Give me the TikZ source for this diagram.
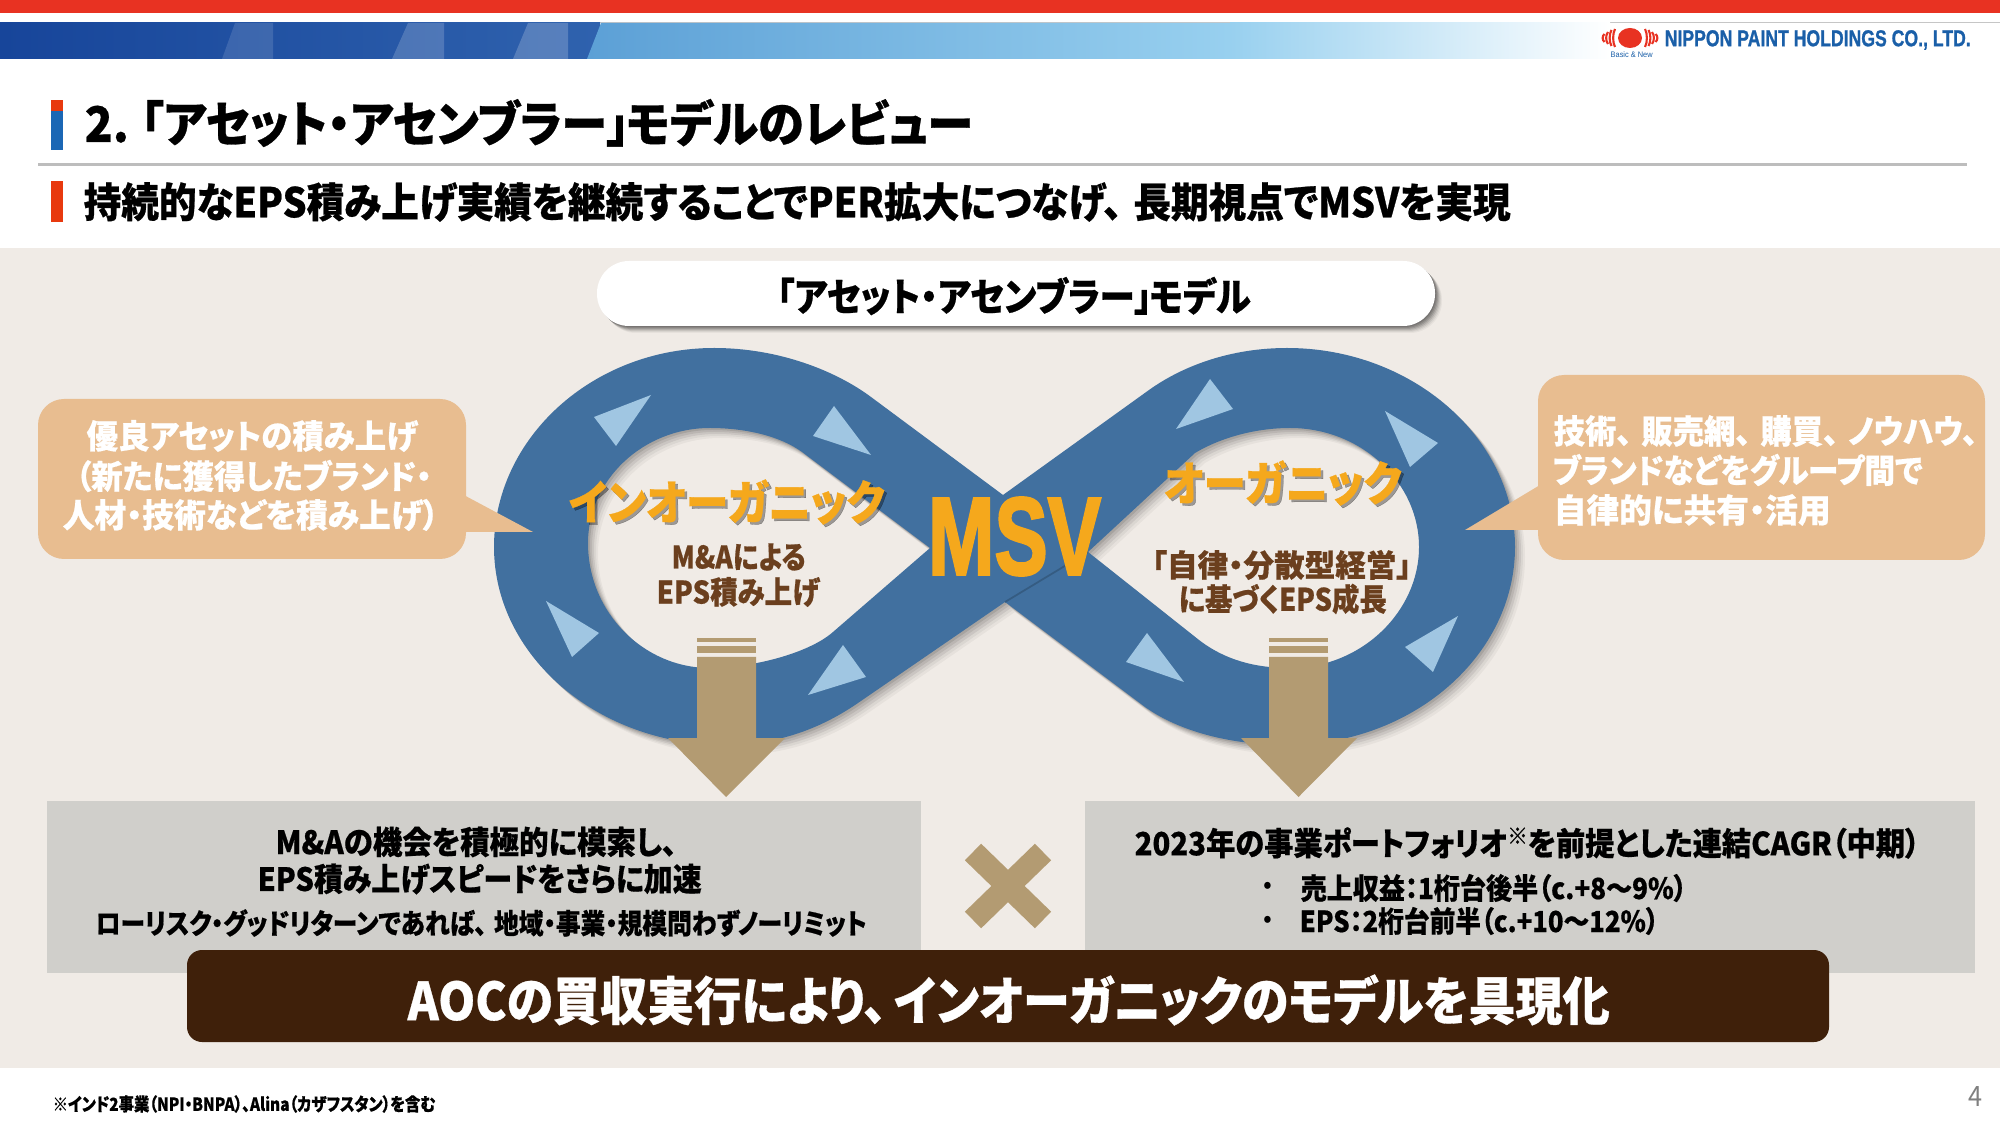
\documentclass[tikz,border=0pt]{standalone}
\usepackage{fontspec}
\usepackage{graphicx}
\setmainfont{Noto Sans CJK JP}[RawFeature={+palt},BoldFeatures={FakeBold=0.6}]
\newfontfamily\latf{Liberation Sans}[BoldFeatures={FakeBold=1.2}]
\newfontfamily\msvf{Liberation Sans}[BoldFeatures={FakeBold=2.5}]
\usetikzlibrary{calc}
\newlength\pxu \setlength\pxu{0.01cm}
\definecolor{bgbeige}{HTML}{F0EBE6}
\definecolor{topred}{HTML}{E83222}
\definecolor{accred}{HTML}{E8390E}
\definecolor{accblue}{HTML}{1B67B5}
\definecolor{greyline}{HTML}{BDBDBD}
\definecolor{callout}{HTML}{E8BD90}
\definecolor{band}{HTML}{41709F}
\definecolor{tri}{HTML}{A0C6E2}
\definecolor{arrowc}{HTML}{B39B72}
\definecolor{boxg}{HTML}{D0CFCB}
\definecolor{banner}{HTML}{3F200A}
\definecolor{orangec}{HTML}{F5A81C}
\definecolor{brownt}{HTML}{6B3F1E}
\definecolor{logob}{HTML}{1A5FA8}
\definecolor{graddeepL}{HTML}{17459A}
\definecolor{graddeepR}{HTML}{2F62AE}
\definecolor{gradmidL}{HTML}{5CA0D6}
\definecolor{gradmidR}{HTML}{98D0EF}
\newcommand{\tx}[7]{\node[anchor=west,inner sep=0pt,text=#6] (#1) at (#2,#3) {\resizebox{#4\pxu}{\height}{\fontsize{#5\pxu}{#5\pxu}\selectfont\bfseries #7}};}
\newcommand{\cms}{、\hspace{.3em}}
\newcommand{\outerpath}{(1003,495) -- (871,397) .. controls (836,371) and (779,348) .. (714,348) .. controls (593,348) and (494,438) .. (494,547) .. controls (494,656) and (598,745) .. (725,745) .. controls (780,745) and (823,727) .. (858,703) -- (1005,602) -- (1145,707) .. controls (1180,732) and (1232,745) .. (1287,745) .. controls (1412,745) and (1515,656) .. (1515,547) .. controls (1515,438) and (1412,348) .. (1287,348) .. controls (1232,348) and (1184,365) .. (1149,390) -- cycle}
\newcommand{\holeL}{(930,548) -- (802,452) .. controls (780,436) and (745,428) .. (710,428) .. controls (643,428) and (588,480) .. (588,543) .. controls (588,612) and (643,668) .. (710,668) .. controls (750,668) and (808,654) .. (833,632) -- cycle}
\newcommand{\holeR}{(1088,552) -- (1195,453) .. controls (1220,438) and (1255,428) .. (1290,428) .. controls (1361,428) and (1419,482) .. (1419,547) .. controls (1419,612) and (1361,668) .. (1290,668) .. controls (1255,668) and (1225,660) .. (1199,640) -- cycle}
\tikzset{
  tribox/.style={fill=tri,draw=none},
  arrowfill/.style={fill=arrowc,draw=none},
  calloutfill/.style={fill=callout,draw=none},
}
\begin{document}
\begin{tikzpicture}[x=0.01cm,y=-0.01cm]
\useasboundingbox (0,0) rectangle (2000,1125);
\fill[white] (0,0) rectangle (2000,1125);
% top bars
\fill[topred] (0,0) rectangle (2000,13);
\fill[gray!45] (0,22) rectangle (2000,23.5);
\shade[left color=graddeepL,right color=graddeepR] (0,23) rectangle (600,59);
\fill[white,opacity=.13] (222,59) -- (235,23) -- (273,23) -- (273,59) -- cycle;
\fill[white,opacity=.18] (392,59) -- (408,23) -- (444,23) -- (444,59) -- cycle;
\fill[white,opacity=.2] (513,59) -- (528,23) -- (568,23) -- (568,59) -- cycle;
\shade[left color=gradmidL,right color=gradmidR] (587,59) -- (601,23) -- (1230,23) -- (1230,59) -- cycle;
\shade[left color=gradmidR,right color=white] (1230,23) rectangle (1610,59);
% logo
\fill[topred] (1630,38) ellipse [x radius=12,y radius=10];
\foreach \d/\h in {15/9,18.5/8,22/6,25.5/4}{
  \draw[topred,line width=0.6pt] (1630-\d,38-\h) .. controls (1630-\d-2.5,38-\h/2) and (1630-\d-2.5,38+\h/2) .. (1630-\d,38+\h);
  \draw[topred,line width=0.6pt] (1630+\d,38-\h) .. controls (1630+\d+2.5,38-\h/2) and (1630+\d+2.5,38+\h/2) .. (1630+\d,38+\h);
}
\node[anchor=west,inner sep=0pt,text=logob] (logotext) at (1664,40) {\resizebox{306\pxu}{\height}{\fontsize{23\pxu}{23\pxu}\latf\bfseries NIPPON PAINT HOLDINGS CO., LTD.}};
\node[anchor=west,inner sep=0pt,text=logob] (logosub) at (1610,55) {\resizebox{42\pxu}{\height}{\fontsize{8\pxu}{8\pxu}\latf Basic \& New}};
% title
\fill[accred] (51,100) rectangle (63,111);
\fill[accblue] (51,111) rectangle (63,150);
\tx{title}{84}{123}{888}{49}{black}{2.\hspace{.25em}「アセット・アセンブラー」\hspace{-.08em}モデルのレビュー}
\fill[greyline] (38,163) rectangle (1967,166.5);
\fill[accred] (51,181) rectangle (63,222);
\tx{subtitle}{83}{202}{1427}{41}{black}{持続的なEPS積み上げ実績を継続することでPER拡大につなげ\cms 長期視点でMSVを実現}
% background
\fill[bgbeige] (0,248) rectangle (2000,1068);
% pill
\foreach \o/\a in {1/.12,2/.12,3/.12,4/.1,5/.08,6/.06,7/.04}{
  \fill[black,opacity=\a,rounded corners=0.32cm] (597+\o,261+\o) rectangle (1435+\o,326+\o);
}
\fill[white,rounded corners=0.32cm] (597,261) rectangle (1435,326);
\tx{pilltext}{776}{296}{474}{39}{black}{「アセット・アセンブラー」\hspace{-.08em}モデル}
% left callout box
\fill[calloutfill,rounded corners=0.26cm] (38,399) rectangle (466,559);
% infinity
\foreach \o/\a in {2/.10,4/.08,6/.07,8/.05,10/.04}{
  \fill[black,opacity=\a,even odd rule,shift={(\o,\o)}] \outerpath \holeL \holeR;
}
\fill[band,even odd rule] \outerpath \holeL \holeR;
\draw[black!18!band,line width=0.5pt] (1005,602) -- (1088,552);
% callout pointers (over band)
\fill[calloutfill] (460,493) -- (533,532) -- (460,532) -- cycle;
\fill[calloutfill,rounded corners=0.26cm] (1538,375) rectangle (1985,560);
\fill[calloutfill] (1545,482) -- (1465,530) -- (1545,530) -- cycle;
% triangles
\fill[tribox] (651,395) -- (594,417) -- (616,446) -- cycle;
\fill[tribox] (834,406) -- (813,436) -- (871,455) -- cycle;
\fill[tribox] (546,601) -- (599,633) -- (572,657) -- cycle;
\fill[tribox] (843,645) -- (866,677) -- (808,695) -- cycle;
\fill[tribox] (1210,379) -- (1233,409) -- (1176,429) -- cycle;
\fill[tribox] (1385,411) -- (1438,443) -- (1410,467) -- cycle;
\fill[tribox] (1147,633) -- (1184,682) -- (1126,662) -- cycle;
\fill[tribox] (1458,616) -- (1433,672) -- (1405,647) -- cycle;
% arrows
\fill[arrowfill] (697,638) rectangle (756,642);
\fill[arrowfill] (697,646) rectangle (756,653);
\fill[arrowfill] (697,657) -- (756,657) -- (756,738) -- (785,738) -- (726,797) -- (668,738) -- (697,738) -- cycle;
\fill[arrowfill] (1269,638) rectangle (1328,642);
\fill[arrowfill] (1269,646) rectangle (1328,653);
\fill[arrowfill] (1269,657) -- (1328,657) -- (1328,738) -- (1357,738) -- (1298.5,797) -- (1241,738) -- (1269,738) -- cycle;
% gray boxes
\fill[boxg] (47,801) rectangle (921,973);
\fill[boxg] (1085,801) rectangle (1975,973);
% cross
\draw[arrowc,line width=6.6pt] (973,852) -- (1043,920);
\draw[arrowc,line width=6.6pt] (1043,852) -- (973,920);
% banner
\fill[banner,rounded corners=0.15cm] (187,950) rectangle (1829,1042);
% MSV
\node[inner sep=0pt,text=orangec] (msv) at (1014.5,536.5) {\resizebox{173\pxu}{77\pxu}{\msvf\bfseries MSV}};
% callout text
\tx{cl1}{86}{436}{331}{33}{white}{優良アセットの積み上げ}
\tx{cl2}{75}{476}{356}{33}{white}{（新たに獲得したブランド・}
\tx{cl3}{62}{515}{376}{33}{white}{人材・技術などを積み上げ）}
\tx{cr1}{1553}{431}{424}{33}{white}{技術\cms 販売網\cms 購買\cms ノウハウ、}
\tx{cr2}{1552}{470}{370}{33}{white}{ブランドなどをグループ間で}
\tx{cr3}{1553}{510}{277}{33}{white}{自律的に共有・活用}
% lobe titles
\node[anchor=west,inner sep=0pt,text=black,opacity=.35] (inorgs) at (570.5,504.5) {\resizebox{316\pxu}{\height}{\fontsize{47\pxu}{47\pxu}\selectfont\bfseries インオーガニック}};
\tx{inorg}{568}{502}{316}{47}{orangec}{インオーガニック}
\node[anchor=west,inner sep=0pt,text=black,opacity=.35] (orgs) at (1165.5,485.5) {\resizebox{238\pxu}{\height}{\fontsize{47\pxu}{47\pxu}\selectfont\bfseries オーガニック}};
\tx{org}{1163}{483}{238}{47}{orangec}{オーガニック}
\tx{ma1}{671}{557}{134}{31}{brownt}{M\&Aによる}
\tx{ma2}{656}{592}{163}{31}{brownt}{EPS積み上げ}
\tx{au1}{1151}{565}{260}{31}{brownt}{「自律・分散型経営」}
\tx{au2}{1178}{599}{208}{31}{brownt}{に基づくEPS成長}
% box texts
\tx{bl1}{275}{842}{401}{32}{black}{M\&Aの機会を積極的に模索し、}
\tx{bl2}{257}{879}{444}{32}{black}{EPS積み上げスピードをさらに加速}
\tx{bl3}{95}{923}{771}{28}{black}{ローリスク・グッドリターンであれば\cms 地域・事業・規模問わずノーリミット}
\tx{br1}{1134}{843}{785}{32}{black}{2023年の事業ポートフォリオ\smash{\raisebox{0.35em}{\scalebox{0.7}{※}}}を前提とした連結CAGR（中期）}
\node[inner sep=0pt,text=black] (bul1) at (1268,888) {\fontsize{26\pxu}{26\pxu}\selectfont •};
\node[inner sep=0pt,text=black] (bul2) at (1268,922) {\fontsize{26\pxu}{26\pxu}\selectfont •};
\tx{br2}{1300}{888}{386}{29}{black}{売上収益：1桁台後半（c.+8～9\%）}
\tx{br3}{1299}{921}{359}{29}{black}{EPS：2桁台前半（c.+10～12\%）}
% banner text
\tx{bantext}{407}{1000}{1202}{52}{white}{AOCの買収実行により、\hspace{.15em}インオーガニックのモデルを具現化}
% footer
\tx{foot}{52}{1104}{383}{18}{black}{※インド2事業（NPI・BNPA）、Alina（カザフスタン）を含む}
\node[inner sep=0pt,text=gray] (pageno) at (1975,1097) {\resizebox{14\pxu}{\height}{\fontsize{28\pxu}{28\pxu}\selectfont 4}};
\end{tikzpicture}
\end{document}
